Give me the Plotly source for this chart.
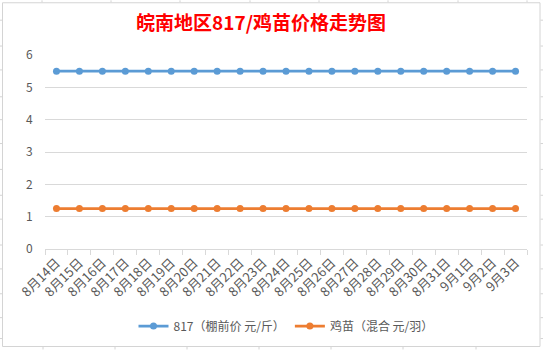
import plotly.graph_objects as go

dates = ["8月14日", "8月15日", "8月16日", "8月17日", "8月18日", "8月19日", "8月20日",
         "8月21日", "8月22日", "8月23日", "8月24日", "8月25日", "8月26日", "8月27日",
         "8月28日", "8月29日", "8月30日", "8月31日", "9月1日", "9月2日", "9月3日"]
price_817 = [5.5] * 21
price_chick = [1.25] * 21
series_names = ["817（棚前价 元/斤）", "鸡苗（混合 元/羽）"]
title_text = "皖南地区817/鸡苗价格走势图"

W, H = 543, 351
L, R, T, B = 45, 16, 55, 101
PW, PH = W - L - R, H - T - B

def px_x(x):
    return (x - L) / PW

def px_y(y):
    return (H - B - y) / PH

FONT = "Noto Sans CJK SC"
fig = go.Figure()
fig.add_trace(go.Scatter(x=dates, y=price_817, mode="lines+markers", name=series_names[0],
                         line=dict(color="#5B9BD5", width=2.75),
                         marker=dict(color="#5B9BD5", size=7)))
fig.add_trace(go.Scatter(x=dates, y=price_chick, mode="lines+markers", name=series_names[1],
                         line=dict(color="#ED7D31", width=2.75),
                         marker=dict(color="#ED7D31", size=7)))

shapes = []
# chart border
shapes.append(dict(type="rect", xref="paper", yref="paper",
                   x0=px_x(2.5), x1=px_x(540), y0=px_y(2.5), y1=px_y(348),
                   line=dict(color="#d4d4d4", width=1), layer="below"))
# spreadsheet grid remnants outside the chart
for cx in [42, 111, 180, 250, 319, 388, 458, 527]:
    shapes.append(dict(type="line", xref="paper", yref="paper",
                       x0=px_x(cx), x1=px_x(cx), y0=px_y(0), y1=px_y(2),
                       line=dict(color="#d4d4d4", width=1)))
for cx in [43, 115, 187, 259, 331, 403, 476]:
    shapes.append(dict(type="line", xref="paper", yref="paper",
                       x0=px_x(cx), x1=px_x(cx), y0=px_y(348.5), y1=px_y(351),
                       line=dict(color="#d4d4d4", width=1)))
for ry in [20, 46, 70, 97, 120, 144, 170, 196, 220, 246, 270, 295, 319, 340]:
    shapes.append(dict(type="line", xref="paper", yref="paper",
                       x0=px_x(0), x1=px_x(2), y0=px_y(ry), y1=px_y(ry),
                       line=dict(color="#d4d4d4", width=1)))
    shapes.append(dict(type="line", xref="paper", yref="paper",
                       x0=px_x(540.5), x1=px_x(543), y0=px_y(ry), y1=px_y(ry),
                       line=dict(color="#d4d4d4", width=1)))

fig.update_layout(
    width=W, height=H,
    margin=dict(l=L, r=R, t=T, b=B),
    paper_bgcolor="white", plot_bgcolor="white",
    font=dict(family=FONT, color="#595959", size=12),
    title=dict(text="<b>" + title_text + "</b>", x=261 / W, xref="container", xanchor="center",
               y=1 - 23 / H, yref="container", yanchor="middle",
               font=dict(family=FONT, size=19, color="#FF0000")),
    showlegend=True,
    legend=dict(orientation="h", x=0.5, xanchor="center", y=px_y(326), yanchor="middle",
                font=dict(family=FONT, size=12, color="#595959"),
                itemwidth=30, bgcolor="rgba(0,0,0,0)"),
    shapes=shapes,
)
fig.update_xaxes(type="category", tickangle=-45, showgrid=False,
                 showline=True, linecolor="#d9d9d9", linewidth=1,
                 ticks="outside", tickson="boundaries", ticklen=5, tickcolor="#d9d9d9",
                 tickfont=dict(family=FONT, size=13, color="#595959"),
                 range=[-0.5, len(dates) - 0.5])
fig.update_yaxes(range=[0, 6], dtick=1, showgrid=True, gridcolor="#d9d9d9", gridwidth=1,
                 zeroline=False, showline=False, ticks="outside", ticklen=9,
                 tickcolor="rgba(0,0,0,0)",
                 tickfont=dict(family=FONT, size=12, color="#595959"))

fig.write_html("out.html")
